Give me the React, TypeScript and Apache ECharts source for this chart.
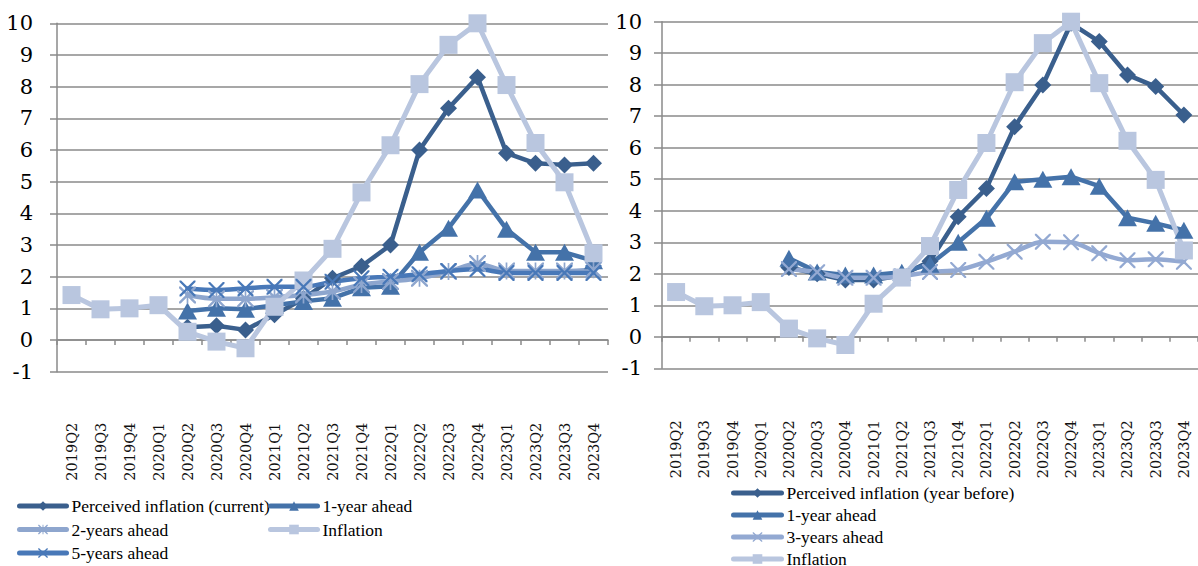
import React, { useEffect, useRef } from "react";
import * as echarts from "echarts";

const categories = [
  "2019Q2", "2019Q3", "2019Q4", "2020Q1", "2020Q2", "2020Q3", "2020Q4",
  "2021Q1", "2021Q2", "2021Q3", "2021Q4", "2022Q1", "2022Q2", "2022Q3",
  "2022Q4", "2023Q1", "2023Q2", "2023Q3", "2023Q4",
];
const yTicks = { min: -1, max: 10, interval: 1 };

// Left panel
const leftPerceived = [null, null, null, null, 0.4, 0.45, 0.32, 0.8, 1.3, 1.95, 2.33, 3.0, 6.0, 7.32, 8.3, 5.9, 5.58, 5.53, 5.58];
const leftOneYear = [null, null, null, null, 0.92, 1.0, 0.97, 1.1, 1.22, 1.32, 1.65, 1.7, 2.77, 3.53, 4.74, 3.5, 2.77, 2.77, 2.5];
const leftTwoYears = [null, null, null, null, 1.42, 1.3, 1.3, 1.35, 1.42, 1.53, 1.75, 1.85, 1.95, 2.16, 2.42, 2.18, 2.18, 2.18, 2.22];
const leftFiveYears = [null, null, null, null, 1.63, 1.58, 1.63, 1.68, 1.68, 1.84, 1.95, 2.0, 2.08, 2.18, 2.24, 2.12, 2.12, 2.12, 2.12];
const inflation = [1.42, 0.97, 1.0, 1.1, 0.26, -0.05, -0.26, 1.05, 1.88, 2.88, 4.66, 6.15, 8.08, 9.32, 10.0, 8.05, 6.22, 4.98, 2.74];

// Right panel
const rightPerceived = [null, null, null, null, 2.2, 2.0, 1.8, 1.8, 1.95, 2.4, 3.81, 4.71, 6.67, 7.99, 9.95, 9.37, 8.31, 7.94, 7.04];
const rightOneYear = [null, null, null, null, 2.49, 2.06, 1.96, 1.96, 2.05, 2.3, 3.0, 3.76, 4.92, 5.0, 5.08, 4.78, 3.78, 3.6, 3.38];
const rightThreeYears = [null, null, null, null, 2.15, 2.05, 1.87, 1.87, 1.92, 2.06, 2.12, 2.38, 2.7, 3.02, 3.0, 2.65, 2.43, 2.46, 2.38];

const names = {
  perceivedCur: "Perceived inflation (current)",
  perceivedPrev: "Perceived inflation (year before)",
  one: "1-year ahead",
  two: "2-years ahead",
  three: "3-years ahead",
  five: "5-years ahead",
  infl: "Inflation",
};

const C_PERC = "#3a5f8d";
const C_ONE = "#4472a9";
const C_TWO = "#8ea6ce";
const C_FIVE = "#4878b8";
const C_THREE = "#93a9d2";
const C_INFL = "#b9c6df";

const X_PATH = "path://M0,0L2,0L10,8L18,0L20,0L20,2L12,10L20,18L20,20L18,20L10,12L2,20L0,20L0,18L8,10L0,2Z";
const AST_PATH = X_PATH + "M9,0L11,0L11,20L9,20Z";

const NUM_FONT = "DejaVu Serif";
const TXT_FONT = "Liberation Serif";

function makeXAxis(gridIndex: number, margin: number) {
  return {
    type: "category",
    gridIndex,
    data: categories,
    boundaryGap: true,
    axisLine: { show: true, onZero: true, lineStyle: { color: "#8a8a8a", width: 1.5 } },
    axisTick: { show: true, interval: 0, alignWithLabel: false, length: 5, lineStyle: { color: "#8a8a8a", width: 1.5 } },
    axisLabel: {
      interval: 0,
      rotate: 90,
      margin,
      fontFamily: NUM_FONT,
      fontSize: 14.5,
      color: "#111",
    },
    splitLine: { show: false },
  };
}

function makeYAxis(gridIndex: number, margin: number, tick: number) {
  return {
    type: "value",
    gridIndex,
    min: yTicks.min,
    max: yTicks.max,
    interval: yTicks.interval,
    axisLine: { show: true, lineStyle: { color: "#8a8a8a", width: 1.5 } },
    axisTick: { show: true, length: tick, lineStyle: { color: "#8a8a8a", width: 1.5 } },
    axisLabel: { margin, fontFamily: NUM_FONT, fontSize: 21, color: "#000" },
    splitLine: { show: true, lineStyle: { color: "#8a8a8a", width: 1.5 } },
  };
}

function lineSeries(name: string, data: (number | null)[], idx: number, color: string, symbol: string, symbolSize: any, smooth: boolean | number, width = 4.5) {
  return {
    type: "line",
    name,
    data,
    xAxisIndex: idx,
    yAxisIndex: idx,
    smooth,
    symbol,
    symbolSize,
    showSymbol: true,
    lineStyle: { color, width, cap: "round", join: "round" },
    itemStyle: { color },
    emphasis: { disabled: true },
  };
}

export default function App() {
  const ref = useRef<HTMLDivElement>(null);

  useEffect(() => {
    if (!ref.current) return;
    const chart = echarts.init(ref.current, undefined, { renderer: "svg" });
    const legendText = { fontFamily: TXT_FONT, fontSize: 17.5, color: "#000", lineHeight: 20 };
    const legendBase = {
      orient: "vertical",
      padding: 0,
      height: 140,
      itemWidth: 47,
      itemHeight: 12,
      selectedMode: false,
      textStyle: legendText,
      lineStyle: { width: 5, cap: "round" },
    };
    const option: any = {
      animation: false,
      backgroundColor: "#ffffff",
      grid: [
        { left: 57, top: 23.3, width: 551, height: 348.4 },
        { left: 662, top: 21.7, width: 545, height: 346.6 },
      ],
      xAxis: [makeXAxis(0, 51), makeXAxis(1, 52)],
      yAxis: [makeYAxis(0, 24, 7), makeYAxis(1, 20, 8)],
      legend: [
        { ...legendBase, left: 17, top: 496, itemGap: 3.5, data: [names.perceivedCur, names.two, names.five] },
        { ...legendBase, left: 268, top: 496, itemGap: 3.5, data: [names.one, names.infl] },
        { ...legendBase, left: 731, top: 483, itemGap: 2, itemWidth: 48, data: [names.perceivedPrev, names.one, names.three, names.infl] },
      ],
      series: [
        lineSeries(names.perceivedCur, leftPerceived, 0, C_PERC, "diamond", 17, false),
        lineSeries(names.one, leftOneYear, 0, C_ONE, "triangle", [19, 17], false),
        lineSeries(names.two, leftTwoYears, 0, C_TWO, AST_PATH, 17, 0.3),
        lineSeries(names.infl, inflation, 0, C_INFL, "rect", 18, false, 5),
        lineSeries(names.five, leftFiveYears, 0, C_FIVE, X_PATH, 16, 0.3),
        lineSeries(names.perceivedPrev, rightPerceived, 1, C_PERC, "diamond", 17, false),
        lineSeries(names.one, rightOneYear, 1, C_ONE, "triangle", [19, 17], false),
        lineSeries(names.three, rightThreeYears, 1, C_THREE, X_PATH, 16, 0.3),
        lineSeries(names.infl, inflation, 1, C_INFL, "rect", 18, false, 5),
      ],
    };
    chart.setOption(option);
    return () => chart.dispose();
  }, []);

  return (
    <div
      ref={ref}
      style={{ position: "absolute", left: 0, top: 0, width: 1198, height: 566, background: "#fff" }}
    />
  );
}
